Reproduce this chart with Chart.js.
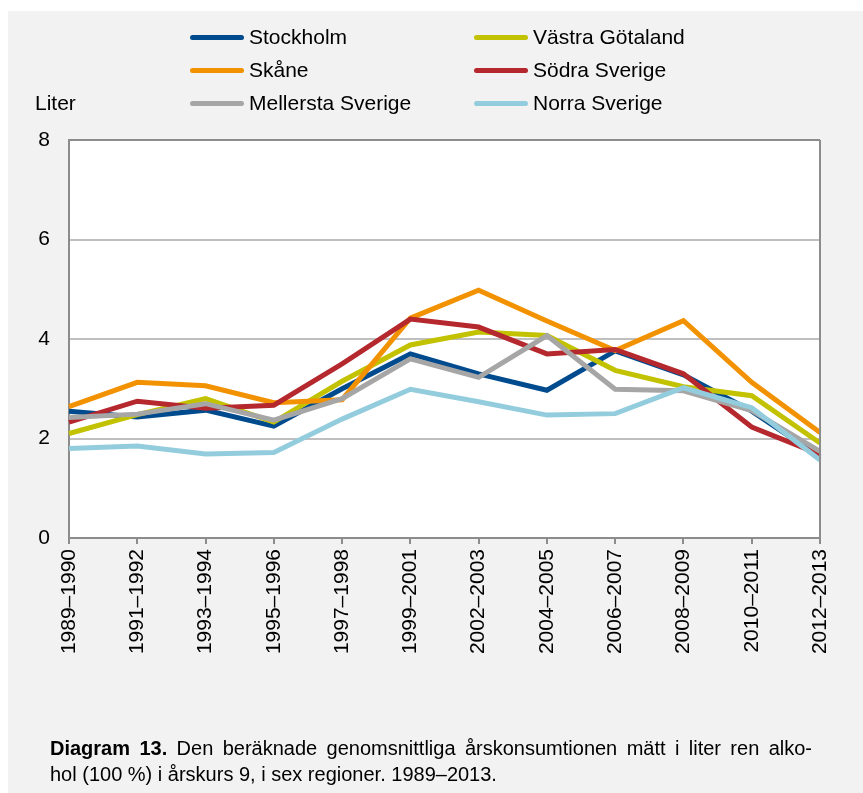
<!DOCTYPE html>
<html>
<head>
<meta charset="utf-8">
<script src="https://cdn.jsdelivr.net/npm/chart.js@4.4.1/dist/chart.umd.min.js"></script>
<style>
  html, body { margin: 0; padding: 0; background: #ffffff; width: 863px; height: 793px; overflow: hidden; }
  body { position: relative; font-family: "Liberation Sans", Arial, sans-serif; color: #000; }
  #panel { position: absolute; left: 8px; top: 11px; right: 0; bottom: 0; background: #f2f2f2; }
  #chart { position: absolute; left: 0; top: 0; }
  .leg { position: absolute; height: 24px; display: flex; align-items: center; font-size: 21px; white-space: nowrap; }
  .leg .sw { width: 54px; height: 5px; border-radius: 3px; margin-right: 5px; }
  #liter { position: absolute; left: 35px; top: 91px; font-size: 21px; line-height: 24px; }
  #caption { position: absolute; left: 50px; top: 735px; width: 762px; font-size: 20px; line-height: 26px; }
  #caption .l1 { display: block; text-align: justify; text-align-last: justify; white-space: nowrap; }
  #caption .l2 { display: block; text-align: left; }
</style>
</head>
<body>
<div id="panel"></div>
<canvas id="chart" width="863" height="793"></canvas>
<div id="liter">Liter</div>
<div id="legend"></div>
<div id="caption"><span class="l1"><b>Diagram 13.</b> Den beräknade genomsnittliga årskonsumtionen mätt i liter ren alko-</span><span class="l2">hol (100&nbsp;%) i årskurs 9, i sex regioner. 1989–2013.</span></div>
<script>
const categories = ["1989–1990","1991–1992","1993–1994","1995–1996","1997–1998","1999–2001","2002–2003","2004–2005","2006–2007","2008–2009","2010–2011","2012–2013"];
const seriesNames = ["Stockholm","Västra Götaland","Skåne","Södra Sverige","Mellersta Sverige","Norra Sverige"];
const stockholm  = [2.55, 2.43, 2.57, 2.25, 3.00, 3.70, 3.30, 2.97, 3.76, 3.28, 2.55, 1.63];
const vastraGot  = [2.10, 2.48, 2.80, 2.33, 3.15, 3.88, 4.14, 4.07, 3.37, 3.04, 2.86, 1.91];
const skane      = [2.64, 3.13, 3.06, 2.72, 2.78, 4.42, 4.98, 4.36, 3.77, 4.37, 3.13, 2.12];
const sodra      = [2.33, 2.75, 2.61, 2.67, 3.50, 4.40, 4.24, 3.70, 3.79, 3.30, 2.23, 1.68];
const mellersta  = [2.42, 2.49, 2.70, 2.37, 2.80, 3.60, 3.23, 4.07, 2.99, 2.96, 2.56, 1.74];
const norra      = [1.80, 1.85, 1.69, 1.72, 2.39, 2.99, 2.74, 2.47, 2.50, 3.02, 2.62, 1.57];
const yTicks = [0, 2, 4, 6, 8];

const seriesValues = [stockholm, vastraGot, skane, sodra, mellersta, norra];
const colors = ["#004b8d", "#c2c200", "#f39200", "#b5282e", "#a6a6a6", "#93cddd"];

// HTML legend (2 columns, row-major)
const legend = document.getElementById('legend');
const colX = [190, 474];
const rowY = [25, 58, 91];
seriesNames.forEach((name, i) => {
  const d = document.createElement('div');
  d.className = 'leg';
  d.style.left = colX[i % 2] + 'px';
  d.style.top = rowY[Math.floor(i / 2)] + 'px';
  d.innerHTML = '<span class="sw" style="background:' + colors[i] + '"></span><span>' + name + '</span>';
  legend.appendChild(d);
});

const areaPlugin = {
  id: 'areaPlugin',
  beforeDraw(chart) {
    const { ctx, chartArea: a } = chart;
    ctx.save();
    ctx.fillStyle = '#ffffff';
    ctx.fillRect(a.left, a.top, a.right - a.left, a.bottom - a.top);
    ctx.restore();
  },
  afterDatasetsDraw(chart) {
    const { ctx, chartArea: a } = chart;
    ctx.save();
    ctx.strokeStyle = '#8c8c8c';
    ctx.lineWidth = 2;
    ctx.beginPath();
    ctx.moveTo(a.right, a.top);
    ctx.lineTo(a.right, a.bottom);
    ctx.stroke();
    ctx.restore();
  }
};

new Chart(document.getElementById('chart'), {
  type: 'line',
  data: {
    labels: categories,
    datasets: seriesNames.map((name, i) => ({
      label: name,
      data: seriesValues[i],
      borderColor: colors[i],
      backgroundColor: colors[i],
      borderWidth: 5,
      pointRadius: 0,
      tension: 0,
      fill: false,
      order: seriesNames.length - i,
      borderJoinStyle: 'miter'
    }))
  },
  options: {
    responsive: false,
    devicePixelRatio: 1,
    animation: false,
    layout: { padding: { left: 0, right: 43, top: 140, bottom: 0 } },
    plugins: { legend: { display: false }, tooltip: { enabled: false } },
    scales: {
      x: {
        offset: false,
        afterFit(s) { s.height = 255; },
        grid: { display: true, drawOnChartArea: false, drawTicks: true, tickLength: 6, color: '#8c8c8c', lineWidth: 2 },
        border: { display: true, color: '#8c8c8c', width: 2 },
        ticks: { maxRotation: 90, minRotation: 90, autoSkip: false, padding: 5, color: '#000', font: { family: '"Liberation Sans", Arial, sans-serif', size: 21 } }
      },
      y: {
        min: 0, max: 8,
        afterFit(s) { s.width = 69; },
        afterBuildTicks(s) { s.ticks = yTicks.map(v => ({ value: v })); },
        grid: { color: (c) => (c.tick && c.tick.value === 8 ? '#8c8c8c' : '#bfbfbf'), lineWidth: 2, drawTicks: false },
        border: { display: true, color: '#8c8c8c', width: 2 },
        ticks: { padding: 19, color: '#000', font: { family: '"Liberation Sans", Arial, sans-serif', size: 21 } }
      }
    }
  },
  plugins: [areaPlugin]
});
</script>
</body>
</html>
